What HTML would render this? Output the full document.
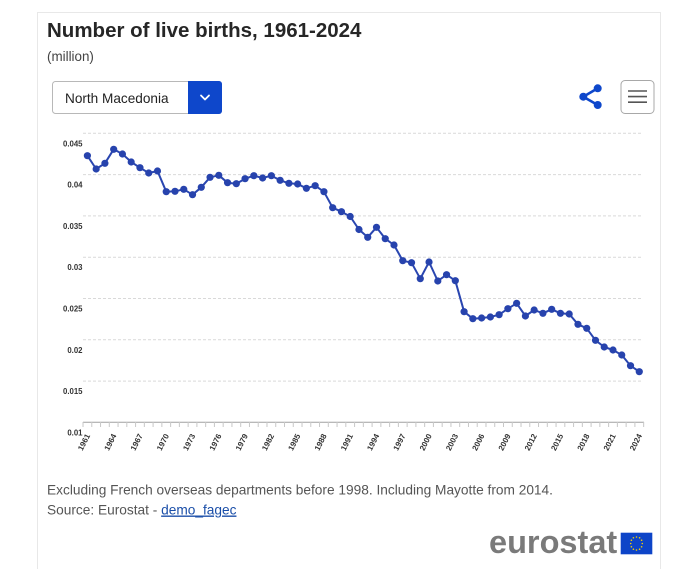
<!DOCTYPE html>
<html><head><meta charset="utf-8"><style>
html,body{margin:0;padding:0;background:#fff;width:700px;height:569px;overflow:hidden}
svg{display:block}
</style></head><body>
<svg width="700" height="569" viewBox="0 0 700 569" xmlns="http://www.w3.org/2000/svg" font-family="Liberation Sans, Arial, sans-serif">
<path d="M37.5 569 V12.5 H660.5 V569" fill="#fff" stroke="#e8e8e8" stroke-width="1"/>
<text x="47" y="37" font-size="20.5" font-weight="bold" fill="#262626">Number of live births, 1961-2024</text>
<text x="47" y="61" font-size="13.4" fill="#444">(million)</text>
<!-- dropdown -->
<rect x="52.5" y="81.5" width="169" height="32" rx="3" fill="#fff" stroke="#b8b8b8"/>
<path d="M188 81 H219 a3 3 0 0 1 3 3 V111 a3 3 0 0 1 -3 3 H188 Z" fill="#0e47cb"/>
<path d="M201 95.5 L205 99.5 L209 95.5" fill="none" stroke="#fff" stroke-width="1.8" stroke-linecap="round" stroke-linejoin="round"/>
<text x="65" y="103" font-size="13.6" fill="#222">North Macedonia</text>
<!-- share icon -->
<g fill="#0e47cb" stroke="#0e47cb">
<line x1="597.7" y1="88.3" x2="583.3" y2="96.7" stroke-width="2.6"/>
<line x1="597.7" y1="105" x2="583.3" y2="96.7" stroke-width="2.6"/>
<circle cx="597.7" cy="88.3" r="4" stroke="none"/>
<circle cx="583.3" cy="96.7" r="4" stroke="none"/>
<circle cx="597.7" cy="105" r="4" stroke="none"/>
</g>
<!-- menu button -->
<rect x="621" y="80.5" width="33" height="33" rx="4" fill="#fff" stroke="#a8a8a8"/>
<g stroke="#555" stroke-width="1.6">
<line x1="628" y1="91" x2="647" y2="91"/>
<line x1="628" y1="96.6" x2="647" y2="96.6"/>
<line x1="628" y1="102.2" x2="647" y2="102.2"/>
</g>
<!-- grid -->
<g stroke="#d9d9d9" stroke-width="1" stroke-dasharray="3,2">
<line x1="83" y1="133.3" x2="643" y2="133.3"/>
<line x1="83" y1="174.6" x2="643" y2="174.6"/>
<line x1="83" y1="215.9" x2="643" y2="215.9"/>
<line x1="83" y1="257.2" x2="643" y2="257.2"/>
<line x1="83" y1="298.5" x2="643" y2="298.5"/>
<line x1="83" y1="339.8" x2="643" y2="339.8"/>
<line x1="83" y1="381.1" x2="643" y2="381.1"/>
</g>
<!-- y labels -->
<g font-size="7.8" font-weight="bold" fill="#333" text-anchor="end">
<text x="82.5" y="146.3">0.045</text>
<text x="82.5" y="187.6">0.04</text>
<text x="82.5" y="228.9">0.035</text>
<text x="82.5" y="270.2">0.03</text>
<text x="82.5" y="311.5">0.025</text>
<text x="82.5" y="352.8">0.02</text>
<text x="82.5" y="394.1">0.015</text>
<text x="82.5" y="435.4">0.01</text>
</g>
<!-- axis -->
<line x1="83" y1="422.3" x2="644" y2="422.3" stroke="#a0a0a0" stroke-width="1"/>
<path stroke="#c8c8c8" stroke-width="1" d="M83.02 422v5M91.78 422v5M100.54 422v5M109.30 422v5M118.06 422v5M126.82 422v5M135.58 422v5M144.34 422v5M153.10 422v5M161.86 422v5M170.62 422v5M179.38 422v5M188.14 422v5M196.90 422v5M205.66 422v5M214.42 422v5M223.18 422v5M231.94 422v5M240.70 422v5M249.46 422v5M258.22 422v5M266.98 422v5M275.74 422v5M284.50 422v5M293.26 422v5M302.02 422v5M310.78 422v5M319.54 422v5M328.30 422v5M337.06 422v5M345.82 422v5M354.58 422v5M363.34 422v5M372.10 422v5M380.86 422v5M389.62 422v5M398.38 422v5M407.14 422v5M415.90 422v5M424.66 422v5M433.42 422v5M442.18 422v5M450.94 422v5M459.70 422v5M468.46 422v5M477.22 422v5M485.98 422v5M494.74 422v5M503.50 422v5M512.26 422v5M521.02 422v5M529.78 422v5M538.54 422v5M547.30 422v5M556.06 422v5M564.82 422v5M573.58 422v5M582.34 422v5M591.10 422v5M599.86 422v5M608.62 422v5M617.38 422v5M626.14 422v5M634.90 422v5M643.66 422v5"/>
<!-- x labels -->
<g font-size="7.9" font-weight="bold" fill="#333" text-anchor="end">
<text transform="translate(90.4,435.6) rotate(-63)">1961</text>
<text transform="translate(116.68,435.6) rotate(-63)">1964</text>
<text transform="translate(142.96,435.6) rotate(-63)">1967</text>
<text transform="translate(169.24,435.6) rotate(-63)">1970</text>
<text transform="translate(195.52,435.6) rotate(-63)">1973</text>
<text transform="translate(221.8,435.6) rotate(-63)">1976</text>
<text transform="translate(248.08,435.6) rotate(-63)">1979</text>
<text transform="translate(274.36,435.6) rotate(-63)">1982</text>
<text transform="translate(300.64,435.6) rotate(-63)">1985</text>
<text transform="translate(326.92,435.6) rotate(-63)">1988</text>
<text transform="translate(353.2,435.6) rotate(-63)">1991</text>
<text transform="translate(379.48,435.6) rotate(-63)">1994</text>
<text transform="translate(405.76,435.6) rotate(-63)">1997</text>
<text transform="translate(432.04,435.6) rotate(-63)">2000</text>
<text transform="translate(458.32,435.6) rotate(-63)">2003</text>
<text transform="translate(484.6,435.6) rotate(-63)">2006</text>
<text transform="translate(510.88,435.6) rotate(-63)">2009</text>
<text transform="translate(537.16,435.6) rotate(-63)">2012</text>
<text transform="translate(563.44,435.6) rotate(-63)">2015</text>
<text transform="translate(589.72,435.6) rotate(-63)">2018</text>
<text transform="translate(616.0,435.6) rotate(-63)">2021</text>
<text transform="translate(642.28,435.6) rotate(-63)">2024</text>
</g>
<!-- series -->
<polyline fill="none" stroke="#2a46b0" stroke-width="2" stroke-linejoin="round" points="87.40,155.7 96.16,169 104.92,163.3 113.68,149.3 122.44,154 131.20,162 139.96,167.7 148.72,173 157.48,171 166.24,191.7 175.00,191.3 183.76,189.3 192.52,194.7 201.28,187.3 210.04,177.3 218.80,175.3 227.56,182.7 236.32,183.7 245.08,178.7 253.84,175.7 262.60,178 271.36,175.7 280.12,180.3 288.88,183.3 297.64,184 306.40,188.3 315.16,185.7 323.92,191.7 332.68,207.7 341.44,211.7 350.20,216.5 358.96,229.5 367.72,237.3 376.48,227.3 385.24,238.7 394.00,245 402.76,260.7 411.52,262.7 420.28,278.7 429.04,262 437.80,281 446.56,274.7 455.32,280.7 464.08,311.7 472.84,318.7 481.60,318 490.36,317 499.12,314.7 507.88,308.7 516.64,303.3 525.40,316 534.16,310 542.92,313.3 551.68,309.3 560.44,313.3 569.20,314 577.96,324.3 586.72,328.3 595.48,340.3 604.24,347 613.00,350 621.76,355 630.52,365.7 639.28,371.7"/>
<g fill="#2743ad">
<circle cx="87.40" cy="155.7" r="3.6"/><circle cx="96.16" cy="169" r="3.6"/><circle cx="104.92" cy="163.3" r="3.6"/><circle cx="113.68" cy="149.3" r="3.6"/><circle cx="122.44" cy="154" r="3.6"/><circle cx="131.20" cy="162" r="3.6"/><circle cx="139.96" cy="167.7" r="3.6"/><circle cx="148.72" cy="173" r="3.6"/><circle cx="157.48" cy="171" r="3.6"/><circle cx="166.24" cy="191.7" r="3.6"/><circle cx="175.00" cy="191.3" r="3.6"/><circle cx="183.76" cy="189.3" r="3.6"/><circle cx="192.52" cy="194.7" r="3.6"/><circle cx="201.28" cy="187.3" r="3.6"/><circle cx="210.04" cy="177.3" r="3.6"/><circle cx="218.80" cy="175.3" r="3.6"/><circle cx="227.56" cy="182.7" r="3.6"/><circle cx="236.32" cy="183.7" r="3.6"/><circle cx="245.08" cy="178.7" r="3.6"/><circle cx="253.84" cy="175.7" r="3.6"/><circle cx="262.60" cy="178" r="3.6"/><circle cx="271.36" cy="175.7" r="3.6"/><circle cx="280.12" cy="180.3" r="3.6"/><circle cx="288.88" cy="183.3" r="3.6"/><circle cx="297.64" cy="184" r="3.6"/><circle cx="306.40" cy="188.3" r="3.6"/><circle cx="315.16" cy="185.7" r="3.6"/><circle cx="323.92" cy="191.7" r="3.6"/><circle cx="332.68" cy="207.7" r="3.6"/><circle cx="341.44" cy="211.7" r="3.6"/><circle cx="350.20" cy="216.5" r="3.6"/><circle cx="358.96" cy="229.5" r="3.6"/><circle cx="367.72" cy="237.3" r="3.6"/><circle cx="376.48" cy="227.3" r="3.6"/><circle cx="385.24" cy="238.7" r="3.6"/><circle cx="394.00" cy="245" r="3.6"/><circle cx="402.76" cy="260.7" r="3.6"/><circle cx="411.52" cy="262.7" r="3.6"/><circle cx="420.28" cy="278.7" r="3.6"/><circle cx="429.04" cy="262" r="3.6"/><circle cx="437.80" cy="281" r="3.6"/><circle cx="446.56" cy="274.7" r="3.6"/><circle cx="455.32" cy="280.7" r="3.6"/><circle cx="464.08" cy="311.7" r="3.6"/><circle cx="472.84" cy="318.7" r="3.6"/><circle cx="481.60" cy="318" r="3.6"/><circle cx="490.36" cy="317" r="3.6"/><circle cx="499.12" cy="314.7" r="3.6"/><circle cx="507.88" cy="308.7" r="3.6"/><circle cx="516.64" cy="303.3" r="3.6"/><circle cx="525.40" cy="316" r="3.6"/><circle cx="534.16" cy="310" r="3.6"/><circle cx="542.92" cy="313.3" r="3.6"/><circle cx="551.68" cy="309.3" r="3.6"/><circle cx="560.44" cy="313.3" r="3.6"/><circle cx="569.20" cy="314" r="3.6"/><circle cx="577.96" cy="324.3" r="3.6"/><circle cx="586.72" cy="328.3" r="3.6"/><circle cx="595.48" cy="340.3" r="3.6"/><circle cx="604.24" cy="347" r="3.6"/><circle cx="613.00" cy="350" r="3.6"/><circle cx="621.76" cy="355" r="3.6"/><circle cx="630.52" cy="365.7" r="3.6"/><circle cx="639.28" cy="371.7" r="3.6"/>
</g>
<!-- footer -->
<text x="47" y="494.5" font-size="13.7" fill="#555">Excluding French overseas departments before 1998. Including Mayotte from 2014.</text>
<text x="47" y="514.5" font-size="13.7" fill="#555">Source: Eurostat - <tspan fill="#1a4ea8" text-decoration="underline">demo_fagec</tspan></text>
<!-- logo -->
<text x="489" y="553" font-size="32.5" font-weight="bold" fill="#7a7a7a">eurostat</text>
<rect x="620.7" y="532.7" width="31.6" height="21.6" fill="#0d44c8"/>
<g fill="#f5d000">
<circle cx="636.5" cy="537" r="0.8"/><circle cx="639.6" cy="537.8" r="0.8"/><circle cx="641.6" cy="540.2" r="0.8"/><circle cx="642.3" cy="543.5" r="0.8"/><circle cx="641.6" cy="546.8" r="0.8"/><circle cx="639.6" cy="549.2" r="0.8"/><circle cx="636.5" cy="550" r="0.8"/><circle cx="633.4" cy="549.2" r="0.8"/><circle cx="631.4" cy="546.8" r="0.8"/><circle cx="630.7" cy="543.5" r="0.8"/><circle cx="631.4" cy="540.2" r="0.8"/><circle cx="633.4" cy="537.8" r="0.8"/>
</g>
</svg>
</body></html>
